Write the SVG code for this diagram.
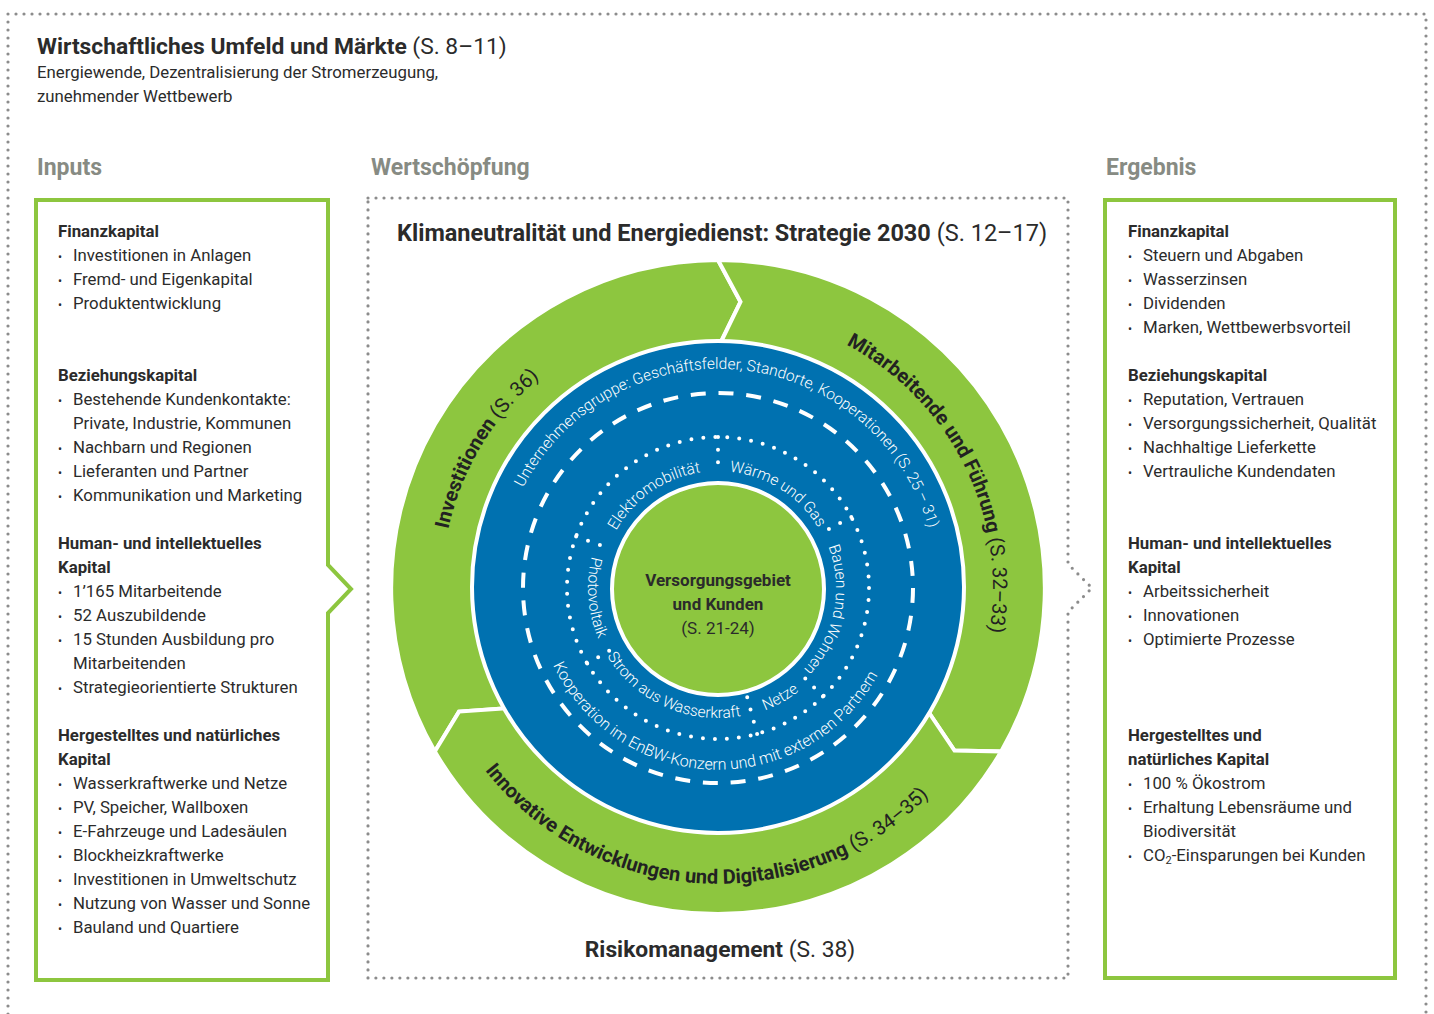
<svg xmlns="http://www.w3.org/2000/svg" width="1434" height="1014" viewBox="0 0 1434 1014">
<style>
.t{font-family:Roboto,"Liberation Sans",sans-serif;font-size:16.8px;fill:#2b2b2b}
.h{font-weight:700}
.big{font-size:22.8px}
.sec{font-family:Roboto,"Liberation Sans",sans-serif;font-size:23px;font-weight:700;fill:#878b83}
.b{font-size:12px}
.w{font-family:Roboto,"Liberation Sans",sans-serif;fill:#fff;font-size:15.5px;font-weight:300}
.ring{font-family:Roboto,"Liberation Sans",sans-serif;font-size:20px;fill:#222}
.dots{fill:none;stroke:#8c8c8c;stroke-width:3.2;stroke-linecap:round;stroke-dasharray:0 8}
.gbox{fill:#fff;stroke:#8dc63f;stroke-width:4}
.seg{fill:#8dc63f;stroke:#fff;stroke-width:4;stroke-linejoin:miter}
.wdot{fill:none;stroke:#fff;stroke-width:4;stroke-linecap:round}
</style>
<defs>
<path id="pInv" d="M503.5,761.7 A276,276 0 0 1 770.7,317.1"/>
<path id="pMit" d="M686.9,314.8 A275,275 0 0 1 917.5,777.3"/>
<path id="pInn" d="M424.1,622.8 A296,296 0 0 0 1006.1,655.8"/>
<path id="pUnt" d="M502.8,547.3 A219,219 0 0 1 937,590.7"/>
<path id="pKoo" d="M536.3,598.3 A182,182 0 0 0 898.7,609.4"/>
<path id="pEle" d="M604.8,617.5 A117,117 0 0 1 785.8,492.6"/>
<path id="pWar" d="M646.5,495.4 A117,117 0 0 1 832.3,612.9"/>
<path id="pBau" d="M779.7,487.4 A118,118 0 0 1 735.4,704.7"/>
<path id="pNet" d="M672.3,710.8 A131,131 0 0 0 846.9,611.6"/>
<path id="pStr" d="M588.1,581.9 A130,130 0 0 0 813.5,676.2"/>
<path id="pPho" d="M664.1,469.7 A130,130 0 0 0 683.3,713.3"/>
</defs>

<g id="frame">
<path class="dots" d="M8,1014 V14 H1426 V1014"/>
<text class="t big" x="37" y="54"><tspan class="h">Wirtschaftliches Umfeld und Märkte</tspan> (S. 8–11)</text>
<text class="t" x="37" y="78">Energiewende, Dezentralisierung der Stromerzeugung,</text>
<text class="t" x="37" y="102">zunehmender Wettbewerb</text>
<text class="sec" x="37" y="175">Inputs</text>
<text class="sec" x="371" y="175">Wertschöpfung</text>
<text class="sec" x="1106" y="175">Ergebnis</text>
</g>

<g id="inputs">
<path class="gbox" d="M36,200 H328 V565 L351,589 L328,613 V980 H36 Z"/>
<text class="t h" x="58" y="237">Finanzkapital</text>
<text class="t" x="58" y="261"><tspan class="b">•</tspan><tspan x="73">Investitionen in Anlagen</tspan></text>
<text class="t" x="58" y="285"><tspan class="b">•</tspan><tspan x="73">Fremd- und Eigenkapital</tspan></text>
<text class="t" x="58" y="309"><tspan class="b">•</tspan><tspan x="73">Produktentwicklung</tspan></text>
<text class="t h" x="58" y="381">Beziehungskapital</text>
<text class="t" x="58" y="405"><tspan class="b">•</tspan><tspan x="73">Bestehende Kundenkontakte:</tspan></text>
<text class="t" x="73" y="429">Private, Industrie, Kommunen</text>
<text class="t" x="58" y="453"><tspan class="b">•</tspan><tspan x="73">Nachbarn und Regionen</tspan></text>
<text class="t" x="58" y="477"><tspan class="b">•</tspan><tspan x="73">Lieferanten und Partner</tspan></text>
<text class="t" x="58" y="501"><tspan class="b">•</tspan><tspan x="73">Kommunikation und Marketing</tspan></text>
<text class="t h" x="58" y="549">Human- und intellektuelles</text>
<text class="t h" x="58" y="573">Kapital</text>
<text class="t" x="58" y="597"><tspan class="b">•</tspan><tspan x="73">1’165 Mitarbeitende</tspan></text>
<text class="t" x="58" y="621"><tspan class="b">•</tspan><tspan x="73">52 Auszubildende</tspan></text>
<text class="t" x="58" y="645"><tspan class="b">•</tspan><tspan x="73">15 Stunden Ausbildung pro</tspan></text>
<text class="t" x="73" y="669">Mitarbeitenden</text>
<text class="t" x="58" y="693"><tspan class="b">•</tspan><tspan x="73">Strategieorientierte Strukturen</tspan></text>
<text class="t h" x="58" y="741">Hergestelltes und natürliches</text>
<text class="t h" x="58" y="765">Kapital</text>
<text class="t" x="58" y="789"><tspan class="b">•</tspan><tspan x="73">Wasserkraftwerke und Netze</tspan></text>
<text class="t" x="58" y="813"><tspan class="b">•</tspan><tspan x="73">PV, Speicher, Wallboxen</tspan></text>
<text class="t" x="58" y="837"><tspan class="b">•</tspan><tspan x="73">E-Fahrzeuge und Ladesäulen</tspan></text>
<text class="t" x="58" y="861"><tspan class="b">•</tspan><tspan x="73">Blockheizkraftwerke</tspan></text>
<text class="t" x="58" y="885"><tspan class="b">•</tspan><tspan x="73">Investitionen in Umweltschutz</tspan></text>
<text class="t" x="58" y="909"><tspan class="b">•</tspan><tspan x="73">Nutzung von Wasser und Sonne</tspan></text>
<text class="t" x="58" y="933"><tspan class="b">•</tspan><tspan x="73">Bauland und Quartiere</tspan></text>
</g>

<g id="wertschoepfung">
<path class="dots" d="M368,198 H1068 V564 L1092,588 L1068,612 V978 H368 Z"/>
<text class="t" x="397" y="241" style="font-size:23.5px"><tspan class="h">Klimaneutralität und Energiedienst: Strategie 2030</tspan> (S. 12–17)</text>
<text class="t big" x="720" y="957" text-anchor="middle"><tspan class="h">Risikomanagement</tspan> (S. 38)</text>
</g>

<g id="ring-investitionen">
<path class="seg" d="M434.8,751.5 A328,328 0 0 1 718,260 L740.5,301.9 L718,348 A240,240 0 0 0 510.2,708 L459,711.6 Z"/>
<text class="ring"><textPath href="#pInv" startOffset="50%" text-anchor="middle"><tspan font-weight="700">Investitionen</tspan> (S. 36)</textPath></text>
</g>
<g id="ring-mitarbeitende">
<path class="seg" d="M718,260 A328,328 0 0 1 1001.2,751.5 L954.5,750.6 L925.8,708 A240,240 0 0 0 718,348 L740.5,301.9 Z"/>
<text class="ring"><textPath href="#pMit" startOffset="50%" text-anchor="middle"><tspan font-weight="700">Mitarbeitende und Führung</tspan> (S. 32–33)</textPath></text>
</g>
<g id="ring-innovative">
<path class="seg" d="M1001.2,751.5 A328,328 0 0 1 434.8,751.5 L459,711.6 L510.2,708 A240,240 0 0 0 925.8,708 L954.5,750.6 Z"/>
<text class="ring"><textPath href="#pInn" startOffset="50%" text-anchor="middle"><tspan font-weight="700">Innovative Entwicklungen und Digitalisierung</tspan> (S. 34–35)</textPath></text>
</g>

<g id="unternehmensgruppe">
<circle cx="718" cy="587" r="246" fill="#0071b0" stroke="#fff" stroke-width="4"/>
<text class="w"><textPath href="#pUnt" startOffset="50%" text-anchor="middle">Unternehmensgruppe: Geschäftsfelder, Standorte, Kooperationen (S. 25 – 31)</textPath></text>
<circle cx="718" cy="588" r="195" fill="none" stroke="#fff" stroke-width="4" stroke-dasharray="15 12.85"/>
<text class="w" style="font-size:16px"><textPath href="#pKoo" startOffset="50%" text-anchor="middle">Kooperation im EnBW-Konzern und mit externen Partnern</textPath></text>
</g>

<g id="geschaeftsfelder">
<circle class="wdot" cx="718" cy="588" r="151" stroke-dasharray="0 12.01"/>
<path class="wdot" stroke-dasharray="0 12.67" d="M718,437 L718,475 M851.3,517.1 L817.8,534.9 M822.9,696.6 L796.5,669.3 M757.1,733.9 L747.2,697.1 M587.2,663.5 L620.1,644.5 M576.1,536.4 L611.8,549.4"/>
<text class="w"><textPath href="#pEle" startOffset="50%" text-anchor="middle">Elektromobilität</textPath></text>
<text class="w"><textPath href="#pWar" startOffset="50%" text-anchor="middle">Wärme und Gas</textPath></text>
<text class="w"><textPath href="#pBau" startOffset="50%" text-anchor="middle">Bauen und Wohnen</textPath></text>
<text class="w"><textPath href="#pNet" startOffset="50%" text-anchor="middle">Netze</textPath></text>
<text class="w"><textPath href="#pStr" startOffset="49%" text-anchor="middle">Strom aus Wasserkraft</textPath></text>
<text class="w"><textPath href="#pPho" startOffset="50%" text-anchor="middle">Photovoltaik</textPath></text>
</g>

<g id="versorgungsgebiet">
<circle cx="718" cy="589" r="106" fill="#8dc63f" stroke="#fff" stroke-width="4"/>
<text class="t h" x="718" y="586" text-anchor="middle" style="font-size:17px">Versorgungsgebiet</text>
<text class="t h" x="718" y="610" text-anchor="middle" style="font-size:17px">und Kunden</text>
<text class="t" x="718" y="634" text-anchor="middle" style="font-size:17px">(S. 21-24)</text>
</g>

<g id="ergebnis">
<rect class="gbox" x="1105" y="200" width="290" height="778"/>
<text class="t h" x="1128" y="237">Finanzkapital</text>
<text class="t" x="1128" y="261"><tspan class="b">•</tspan><tspan x="1143">Steuern und Abgaben</tspan></text>
<text class="t" x="1128" y="285"><tspan class="b">•</tspan><tspan x="1143">Wasserzinsen</tspan></text>
<text class="t" x="1128" y="309"><tspan class="b">•</tspan><tspan x="1143">Dividenden</tspan></text>
<text class="t" x="1128" y="333"><tspan class="b">•</tspan><tspan x="1143">Marken, Wettbewerbsvorteil</tspan></text>
<text class="t h" x="1128" y="381">Beziehungskapital</text>
<text class="t" x="1128" y="405"><tspan class="b">•</tspan><tspan x="1143">Reputation, Vertrauen</tspan></text>
<text class="t" x="1128" y="429"><tspan class="b">•</tspan><tspan x="1143">Versorgungssicherheit, Qualität</tspan></text>
<text class="t" x="1128" y="453"><tspan class="b">•</tspan><tspan x="1143">Nachhaltige Lieferkette</tspan></text>
<text class="t" x="1128" y="477"><tspan class="b">•</tspan><tspan x="1143">Vertrauliche Kundendaten</tspan></text>
<text class="t h" x="1128" y="549">Human- und intellektuelles</text>
<text class="t h" x="1128" y="573">Kapital</text>
<text class="t" x="1128" y="597"><tspan class="b">•</tspan><tspan x="1143">Arbeitssicherheit</tspan></text>
<text class="t" x="1128" y="621"><tspan class="b">•</tspan><tspan x="1143">Innovationen</tspan></text>
<text class="t" x="1128" y="645"><tspan class="b">•</tspan><tspan x="1143">Optimierte Prozesse</tspan></text>
<text class="t h" x="1128" y="741">Hergestelltes und</text>
<text class="t h" x="1128" y="765">natürliches Kapital</text>
<text class="t" x="1128" y="789"><tspan class="b">•</tspan><tspan x="1143">100 % Ökostrom</tspan></text>
<text class="t" x="1128" y="813"><tspan class="b">•</tspan><tspan x="1143">Erhaltung Lebensräume und</tspan></text>
<text class="t" x="1143" y="837">Biodiversität</text>
<text class="t" x="1128" y="861"><tspan class="b">•</tspan><tspan x="1143">CO</tspan><tspan font-size="11" dy="3">2</tspan><tspan dy="-3">-Einsparungen bei Kunden</tspan></text>
</g>

<g id="connectors"></g>
</svg>
